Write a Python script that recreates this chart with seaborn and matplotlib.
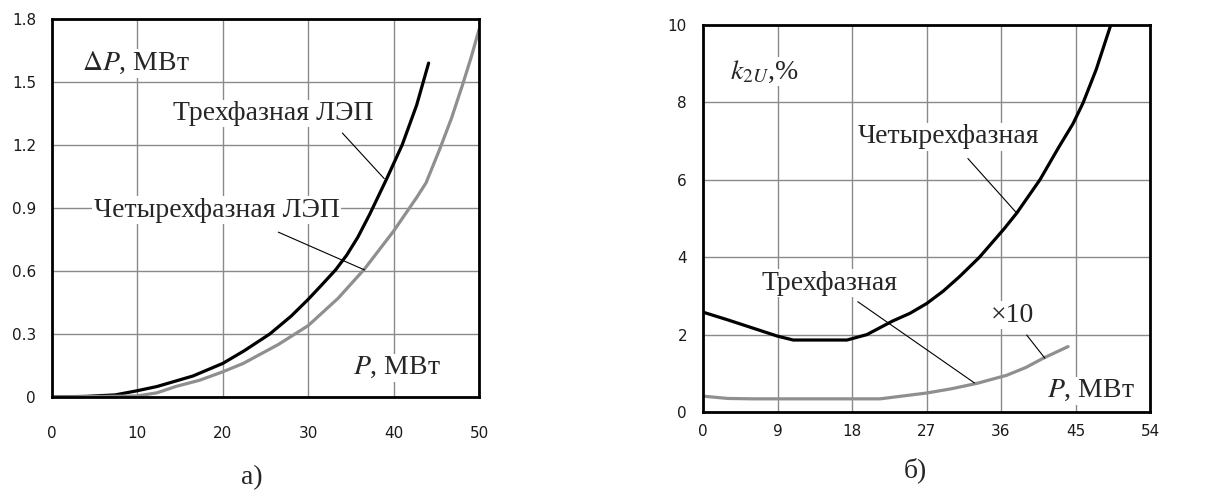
import matplotlib
matplotlib.use("Agg")
import matplotlib.pyplot as plt
import seaborn as sns
import pandas as pd

# ---- Panel a) data: power losses vs transmitted power ----
p3_x = [0, 4, 7.4, 10, 12.3, 16.5, 20, 22.5, 25.5, 28, 30, 31.5, 33.2, 34.5, 35.8, 37.2, 39.2, 41, 42.7, 44.1]
p3_y = [0, 0.003, 0.01, 0.03, 0.05, 0.10, 0.16, 0.22, 0.30, 0.385, 0.465, 0.53, 0.605, 0.675, 0.76, 0.87, 1.04, 1.2, 1.39, 1.59]

p4_x = [0, 5, 10, 12.3, 14.5, 17.3, 20, 22.4, 26.5, 30, 33.5, 36.6, 40, 42.7, 43.8, 45.4, 46.8, 48.1, 49.1, 50]
p4_y = [0, 0.002, 0.005, 0.02, 0.05, 0.08, 0.12, 0.16, 0.25, 0.34, 0.47, 0.61, 0.79, 0.95, 1.02, 1.18, 1.33, 1.49, 1.62, 1.75]

# ---- Panel б) data: negative-sequence voltage factor ----
k4_x = [0, 3, 6, 9, 10.9, 14, 17.4, 19.8, 22.9, 25, 27, 29, 31, 33.4, 36.4, 37.9, 40.7, 43, 44.7, 45.9, 47.5, 49.2]
k4_y = [2.58, 2.38, 2.17, 1.96, 1.86, 1.86, 1.86, 2.0, 2.35, 2.55, 2.8, 3.12, 3.5, 4.0, 4.74, 5.14, 6.0, 6.85, 7.45, 7.98, 8.85, 9.96]

k3_x = [0, 3, 6, 12, 18, 21.4, 24, 27, 30, 33.1, 36.7, 39, 41.1, 44.1]
k3_y = [0.41, 0.35, 0.34, 0.34, 0.34, 0.34, 0.41, 0.49, 0.60, 0.74, 0.95, 1.15, 1.39, 1.69]

xticks_a = [0, 10, 20, 30, 40, 50]
yticks_a = [0, 0.3, 0.6, 0.9, 1.2, 1.5, 1.8]
ytick_labels_a = ["0", "0.3", "0.6", "0.9", "1.2", "1.5", "1.8"]
xticks_b = [0, 9, 18, 27, 36, 45, 54]
yticks_b = [0, 2, 4, 6, 8, 10]

df_a = pd.concat([
    pd.DataFrame({"P": p3_x, "val": p3_y, "line": "three"}),
    pd.DataFrame({"P": p4_x, "val": p4_y, "line": "four"}),
])
df_b = pd.concat([
    pd.DataFrame({"P": k4_x, "val": k4_y, "line": "four"}),
    pd.DataFrame({"P": k3_x, "val": k3_y, "line": "three"}),
])

sns.set_style("white")
plt.rcParams["font.family"] = ["Liberation Serif", "DejaVu Serif"]
plt.rcParams["mathtext.fontset"] = "stix"

fig = plt.figure(figsize=(12.05, 4.92), dpi=100)
axA = fig.add_axes([52 / 1205, 1 - 397 / 492, 427 / 1205, 378 / 492])
axB = fig.add_axes([703 / 1205, 1 - 412 / 492, 447 / 1205, 387 / 492])

palette_a = {"three": "black", "four": "#8f8f8f"}
palette_b = {"four": "black", "three": "#8f8f8f"}

tick_family = "DejaVu Sans"
tick_size = 11
tick_color = "#1a1a1a"
ann_size = 20
bbox = dict(facecolor="white", edgecolor="none", pad=1.0)


def style_ticks(ax):
    for lab in ax.get_xticklabels() + ax.get_yticklabels():
        lab.set_fontfamily(tick_family)
        lab.set_fontsize(tick_size)
        lab.set_color(tick_color)


# ----- Panel a -----
sns.lineplot(data=df_a, x="P", y="val", hue="line", palette=palette_a, ax=axA,
             linewidth=2.3, legend=False, sort=False, zorder=3)
axA.set_xlim(0, 50)
axA.set_ylim(0, 1.8)
axA.set_xticks(xticks_a)
axA.set_yticks(yticks_a)
axA.set_yticklabels(ytick_labels_a)
axA.set_xlabel("")
axA.set_ylabel("")
axA.grid(True, color="#8a8a8a", linewidth=1.0)
axA.tick_params(axis="x", length=0, pad=21)
axA.tick_params(axis="y", length=0, pad=11.5)
style_ticks(axA)

axA.text(3.5, 1.59, r"$\Delta P$, МВт", fontsize=ann_size, va="center", ha="left", bbox=bbox, zorder=4)
axA.text(25.9, 1.35, "Трехфазная ЛЭП", fontsize=ann_size, va="center", ha="center", bbox=bbox, zorder=4)
axA.plot([34.0, 38.9], [1.257, 1.04], color="black", linewidth=0.8, zorder=4)
axA.text(19.3, 0.89, "Четырехфазная ЛЭП", fontsize=ann_size, va="center", ha="center", bbox=bbox, zorder=4)
axA.plot([26.5, 36.6], [0.785, 0.605], color="black", linewidth=0.8, zorder=4)
axA.text(35.2, 0.14, r"$P$, МВт", fontsize=ann_size, va="center", ha="left", bbox=bbox, zorder=4)

# ----- Panel b -----
sns.lineplot(data=df_b, x="P", y="val", hue="line", palette=palette_b, ax=axB,
             linewidth=2.3, legend=False, sort=False, zorder=3)
axB.set_xlim(0, 54)
axB.set_ylim(0, 10)
axB.set_xticks(xticks_b)
axB.set_yticks(yticks_b)
axB.set_xlabel("")
axB.set_ylabel("")
axB.grid(True, color="#8a8a8a", linewidth=1.0)
axB.tick_params(axis="x", length=0, pad=9)
axB.tick_params(axis="y", length=0, pad=11.5)
style_ticks(axB)

axB.text(3.3, 8.8, r"$k_{2U}$,%", fontsize=ann_size, va="center", ha="left", bbox=bbox, zorder=4)
axB.text(29.6, 7.11, "Четырехфазная", fontsize=ann_size, va="center", ha="center", bbox=bbox, zorder=4)
axB.plot([32.0, 37.9], [6.55, 5.14], color="black", linewidth=0.8, zorder=4)
axB.text(15.3, 3.33, "Трехфазная", fontsize=ann_size, va="center", ha="center", bbox=bbox, zorder=4)
axB.plot([18.7, 32.8], [2.85, 0.75], color="black", linewidth=0.8, zorder=4)
axB.text(37.4, 2.5, "×10", fontsize=ann_size, va="center", ha="center", bbox=bbox, zorder=4)
axB.plot([39.1, 41.3], [1.99, 1.39], color="black", linewidth=0.8, zorder=4)
axB.text(41.5, 0.55, r"$P$, МВт", fontsize=ann_size, va="center", ha="left", bbox=bbox, zorder=4)

for ax in (axA, axB):
    for s in ax.spines.values():
        s.set_visible(True)
        s.set_color("black")
        s.set_linewidth(2.0)
        s.set_zorder(5)

fig.text(252 / 1205, 1 - 478 / 492, "а)", fontsize=20, ha="center", va="center")
fig.text(915 / 1205, 1 - 470 / 492, "б)", fontsize=20, ha="center", va="center")

fig.savefig("out.png", dpi=100)
